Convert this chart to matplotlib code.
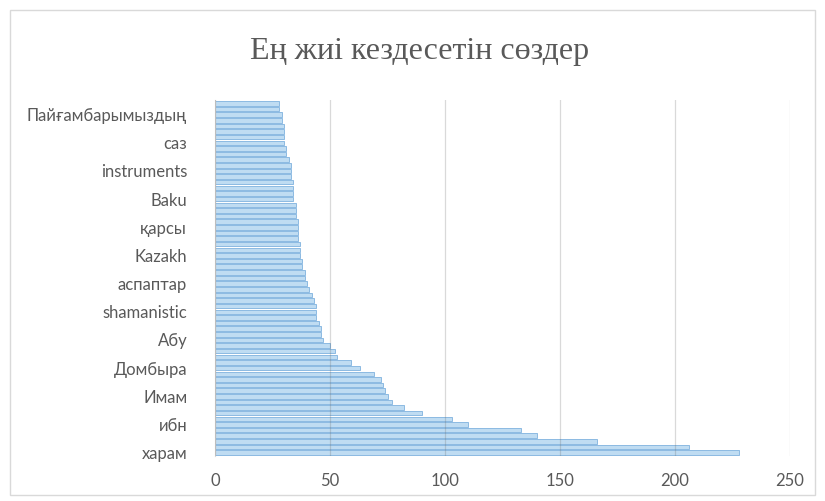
import matplotlib
matplotlib.use("Agg")
import matplotlib.pyplot as plt
from matplotlib.patches import Rectangle

title = "Ең жиі кездесетін сөздер"

# counts, from the bottom bar (most frequent) upwards
values = [228, 206, 166, 140, 133, 110, 103, 90, 82, 77,
          75, 74, 73, 72, 69, 63, 59, 53, 52, 50,
          47, 46, 46, 45, 44, 44, 44, 43, 42, 41,
          40, 39, 39, 38, 38, 37, 37, 37, 36, 36,
          36, 36, 35, 35, 35, 34, 34, 34, 34, 33,
          33, 33, 32, 31, 31, 30, 30, 30, 30, 29,
          29, 28, 28]

# visible category labels (every 5th bar from the bottom)
tick_labels = ["харам", "ибн", "Имам", "Домбыра", "Абу", "shamanistic",
               "аспаптар", "Kazakh", "қарсы", "Baku", "instruments", "саз",
               "Пайғамбарымыздың"]
label_step = 5

x_ticks = [0, 50, 100, 150, 200, 250]

fig = plt.figure(figsize=(8.25, 5.01), dpi=100)
fig.patch.set_facecolor("white")
fig.patches.append(Rectangle((10/825, 6/501), 805/825, 485/501, transform=fig.transFigure,
                             fill=False, edgecolor="#d9d9d9", linewidth=1.0))

ax = fig.add_axes([215/825, 1 - 456/501, (790 - 215)/825, (456 - 100)/501])
pos = list(range(len(values)))
ax.barh(pos, values, height=0.8, color="#bfdcf2", edgecolor="#7fb2de", linewidth=0.6, zorder=2)

ax.set_ylim(-0.6, len(values) - 0.4)
ax.set_xlim(0, 250)
ax.set_xticks(x_ticks)
ax.set_xticklabels([str(t) for t in x_ticks])
ax.set_yticks(pos[::label_step])
ax.set_yticklabels(tick_labels)

ax.grid(axis="x", color="#6a6a6a", alpha=0.25, linewidth=0.9, zorder=4)
ax.set_axisbelow(False)
for s in ["top", "right", "bottom"]:
    ax.spines[s].set_visible(False)
ax.spines["left"].set_color("#d9d9d9")
ax.tick_params(axis="both", length=0, colors="#595959", labelsize=12)
ax.tick_params(axis="y", pad=20)
ax.tick_params(axis="x", pad=12)
for lab in ax.get_xticklabels() + ax.get_yticklabels():
    lab.set_family("Lato")
    lab.set_color("#595959")

fig.text(420/825, 1 - 52/501, title, ha="center", va="center", fontsize=23,
         family="Liberation Serif", color="#595959")

fig.savefig("out.png", dpi=100)
